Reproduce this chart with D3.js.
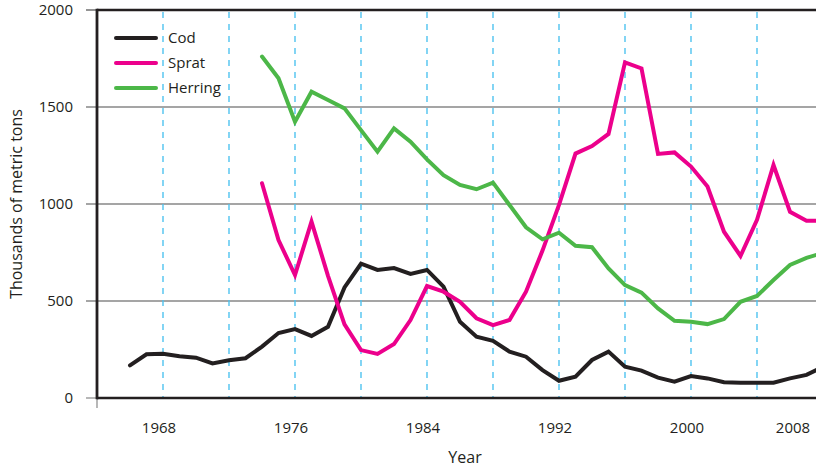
<!DOCTYPE html>
<html>
<head>
<meta charset="utf-8">
<script src="https://cdn.jsdelivr.net/npm/d3@7"></script>
<style>
  html, body { margin: 0; padding: 0; background: #fff; }
  svg { display: block; font-family: "Open Sans", "Noto Sans", sans-serif; }
</style>
</head>
<body>
<svg id="chart" width="816" height="468"></svg>
<script>
// Baltic Sea fish stocks, thousands of metric tons
const codYears = d3.range(1966, 2009);
const codValues = [168, 225, 228, 215, 208, 178, 195, 205, 265, 335, 355, 320, 367, 570, 692, 660, 670, 640, 660, 574,
  393, 316, 295, 239, 213, 144, 89, 110, 196, 239, 161, 141, 105, 84, 113, 101, 81, 79, 79, 79, 101, 119, 160];

const spratYears = d3.range(1974, 2009);
const spratValues = [1107, 814, 634, 909, 630, 380, 247, 227, 278, 402, 577, 548, 496, 411, 376, 402, 548, 760, 995, 1260,
  1299, 1361, 1730, 1699, 1258, 1266, 1193, 1090, 857, 732, 918, 1201, 960, 914, 914];

const herringYears = d3.range(1974, 2009);
const herringValues = [1760, 1648, 1424, 1579, 1536, 1493, 1381, 1270, 1390, 1321, 1230, 1149, 1098, 1076, 1110, 995, 880,
  818, 852, 785, 777, 668, 582, 543, 462, 398, 393, 381, 407, 496, 526, 608, 686, 722, 748];

const yTicks = [0, 500, 1000, 1500, 2000];
const xLabelYears = [1968, 1976, 1984, 1992, 2000, 2008];
const dashYears = d3.range(1968, 2009, 4);

const seriesNames = ["Cod", "Sprat", "Herring"];
const seriesColors = ["#231f20", "#ec008c", "#4cb748"];

const W = 816, H = 468;
const plotLeft = 97, plotTop = 10, plotBottom = 398, plotRight = 816;

const x = d3.scaleLinear().domain([1964, 2008]).range([97, 823]);
const y = d3.scaleLinear().domain([0, 2000]).range([plotBottom, plotTop]);

const svg = d3.select("#chart");

svg.append("defs").append("clipPath").attr("id", "plot-clip")
  .append("rect").attr("x", plotLeft).attr("y", 0).attr("width", plotRight - plotLeft).attr("height", H);

// horizontal gridlines with left tick stubs
svg.append("g").selectAll("line").data(yTicks.filter(v => v > 0 && v < 2000)).join("line")
  .attr("x1", 86).attr("x2", plotRight)
  .attr("y1", d => y(d)).attr("y2", d => y(d))
  .attr("stroke", "#4d4d4d").attr("stroke-width", 1.2);

// dashed year guides
svg.append("g").attr("clip-path", "url(#plot-clip)")
  .selectAll("line").data(dashYears).join("line")
  .attr("x1", d => x(d)).attr("x2", d => x(d))
  .attr("y1", plotTop + 2).attr("y2", plotBottom - 1)
  .attr("stroke", "#4fc3f0").attr("stroke-width", 1.4)
  .attr("stroke-dasharray", "6,6");

// axis frame
svg.append("line").attr("x1", 86).attr("x2", plotLeft).attr("y1", y(2000)).attr("y2", y(2000))
  .attr("stroke", "#4d4d4d").attr("stroke-width", 1.2);
svg.append("line").attr("x1", 86).attr("x2", plotLeft).attr("y1", y(0)).attr("y2", y(0))
  .attr("stroke", "#888").attr("stroke-width", 1.2);
svg.append("line").attr("x1", plotLeft).attr("x2", plotLeft).attr("y1", plotBottom).attr("y2", 408)
  .attr("stroke", "#888").attr("stroke-width", 1.2);
svg.append("line").attr("x1", plotLeft).attr("x2", plotRight).attr("y1", y(2000)).attr("y2", y(2000))
  .attr("stroke", "#231f20").attr("stroke-width", 2.6);
svg.append("line").attr("x1", plotLeft).attr("x2", plotRight).attr("y1", y(0)).attr("y2", y(0))
  .attr("stroke", "#231f20").attr("stroke-width", 2.6);
svg.append("line").attr("x1", plotLeft).attr("x2", plotLeft).attr("y1", plotTop - 1.3).attr("y2", plotBottom + 1.3)
  .attr("stroke", "#231f20").attr("stroke-width", 2.8);

// y tick labels
svg.append("g").selectAll("text").data(yTicks).join("text")
  .attr("x", 73).attr("y", d => y(d)).attr("dy", "0.35em")
  .attr("text-anchor", "end").attr("font-size", 15).attr("fill", "#231f20")
  .text(d => d);

// x tick labels
svg.append("g").selectAll("text").data(xLabelYears).join("text")
  .attr("x", d => Math.min(x(d) - 4, 793)).attr("y", 433)
  .attr("text-anchor", "middle").attr("font-size", 15).attr("fill", "#231f20")
  .text(d => d);

// axis titles
svg.append("text").attr("x", 465).attr("y", 463)
  .attr("text-anchor", "middle").attr("font-size", 16).attr("fill", "#231f20").text("Year");
svg.append("text").attr("transform", "translate(22,204) rotate(-90)")
  .attr("text-anchor", "middle").attr("font-size", 16).attr("fill", "#231f20")
  .text("Thousands of metric tons");

// series lines
const line = d3.line().x(d => x(d[0])).y(d => y(d[1]));
const series = [
  d3.zip(codYears, codValues),
  d3.zip(spratYears, spratValues),
  d3.zip(herringYears, herringValues)
];
svg.append("g").attr("clip-path", "url(#plot-clip)")
  .selectAll("path").data(series).join("path")
  .attr("d", line)
  .attr("fill", "none")
  .attr("stroke", (d, i) => seriesColors[i])
  .attr("stroke-width", 4)
  .attr("stroke-linejoin", "miter")
  .attr("stroke-linecap", "round");

// legend
const legend = svg.append("g").selectAll("g").data(seriesNames).join("g")
  .attr("transform", (d, i) => `translate(0,${38 + i * 25})`);
legend.append("line").attr("x1", 116).attr("x2", 156)
  .attr("stroke", (d, i) => seriesColors[i]).attr("stroke-width", 4).attr("stroke-linecap", "round");
legend.append("text").attr("x", 168).attr("dy", "0.35em")
  .attr("font-size", 15).attr("fill", "#231f20").text(d => d);
</script>
</body>
</html>
